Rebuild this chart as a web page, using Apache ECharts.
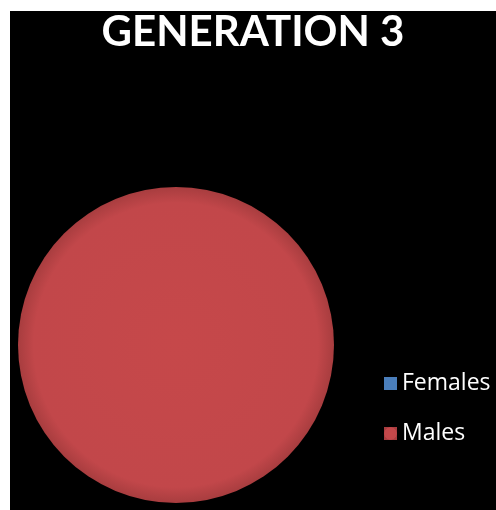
<!DOCTYPE html>
<html><head><meta charset="utf-8">
<script src="https://cdn.jsdelivr.net/npm/echarts@6/dist/echarts.min.js"></script>
<style>
html,body{margin:0;padding:0;background:#fff;width:496px;height:510px;overflow:hidden}
#c{position:absolute;left:10px;top:11px;width:486px;height:499px;background:#000}
</style></head><body>
<div id="c"></div>
<script>
const titleText = 'GENERATION 3';
const categories = ['Females', 'Males'];
const values = [0, 100];
const colors = ['#4a7ebb', '#c0504d'];

const chart = echarts.init(document.getElementById('c'), null, {renderer:'canvas'});
chart.setOption({
  backgroundColor: '#000',
  animation: false,
  title: {
    text: titleText, left: 'center', top: -5,
    textStyle: {color:'#fff', fontFamily:'Lato', fontWeight:'bold', fontSize:42}
  },
  legend: {
    orient: 'vertical', left: 369, top: 356, itemGap: 27,
    itemWidth: 13, itemHeight: 13, icon: 'rect',
    data: categories,
    textStyle: {color:'#fff', fontFamily:'Open Sans', fontSize:23}
  },
  series: [{
    type: 'pie', center: [166, 334], radius: 158,
    label: {show:false}, labelLine:{show:false},
    startAngle: 90, minAngle: 0, stillShowZeroSum: true,
    data: categories.map((n,i)=>({name:n, value:values[i], itemStyle:{
      color: i===1 ? {type:'radial', x:0.5, y:0.5, r:0.5, colorStops:[
        {offset:0, color:'#c6484a'},{offset:0.9, color:'#c2474a'},{offset:1, color:'#a83d3f'}]} : colors[i]
    }})),
    itemStyle: {borderWidth:0}
  }],
  color: colors
});
</script></body></html>
